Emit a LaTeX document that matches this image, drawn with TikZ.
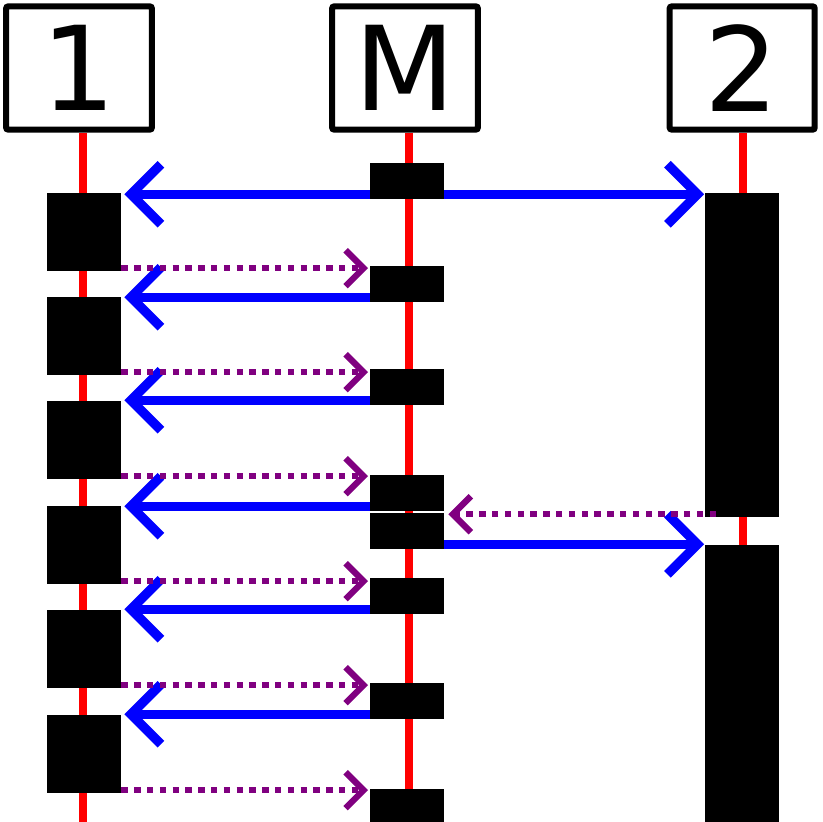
\documentclass[tikz,border=0pt]{standalone}
\usepackage{fontspec}
\setmainfont{DejaVu Sans}
\usetikzlibrary{arrows.meta}
\definecolor{lifered}{RGB}{255,0,0}
\definecolor{msgblue}{RGB}{0,0,255}
\definecolor{retpurple}{RGB}{128,0,128}
\begin{document}
\begin{tikzpicture}[x=1pt,y=-1pt,
  head/.style={draw=black, line width=6pt, rounded corners=2pt, fill=white,
    minimum width=145.7pt, minimum height=123.2pt, inner sep=0pt,
    font=\fontsize{117}{120}\selectfont},
  life/.style={draw=lifered, line width=7.7pt},
  act/.style={fill=black, inner sep=0pt, minimum width=74pt, anchor=north west},
  actL/.style={act, minimum height=78pt},
  actM/.style={act, minimum height=35.5pt},
  call/.style={draw=msgblue, line width=9.3pt, -{Straight Barb[length=30pt, width=60pt, sharp]}},
  reply/.style={draw=retpurple, line width=6.3pt, dash pattern=on 6.4pt off 6.4pt,
    -{Straight Barb[length=18pt, width=36pt, sharp, line width=6.3pt]}}
]
\useasboundingbox (0,0) rectangle (822,822);
% headers
\node[head] (h1) at (79,68) {1};
\node[head] (hm) at (405,68) {M};
\node[head, minimum width=145pt] (h2) at (742.2,68) {2};
% lifelines
\coordinate (e1) at (83,822);
\coordinate (em) at (409,822);
\coordinate (e2) at (743,822);
\draw[life] (h1.south -| e1) -- (e1);
\draw[life] (hm.south -| em) -- (em);
\draw[life] (h2.south -| e2) -- (e2);
% activations of 1
\node[actL] (a1) at (47,193) {};
\node[actL] (a2) at (47,297) {};
\node[actL] (a3) at (47,401) {};
\node[actL] (a4) at (47,506) {};
\node[actL] (a5) at (47,610) {};
\node[actL] (a6) at (47,715) {};
% activations of M
\node[actM] (m1) at (370,163) {};
\node[actM] (m2) at (370,266) {};
\node[actM] (m3) at (370,369) {};
\node[actM] (m4) at (370,475) {};
\node[actM] (m5) at (370,513) {};
\node[actM] (m6) at (370,578) {};
\node[actM] (m7) at (370,683) {};
\node[actM] (m8) at (370,789) {};
% activations of 2
\node[act, minimum height=324pt] (t1) at (705,193) {};
\node[act, minimum height=290pt] (t2) at (705,545) {};
% calls M -> 1 / 2
\draw[call] ([yshift=4.65pt]m1.south west) -- ([yshift=4.65pt,xshift=3pt]m1.south west -| a1.east);
\draw[call] ([yshift=4.65pt]m1.south east) -- ([yshift=4.65pt,xshift=-1pt]m1.south east -| t1.west);
\draw[call] ([yshift=4.65pt]m2.south west) -- ([yshift=4.65pt,xshift=3pt]m2.south west -| a2.east);
\draw[call] ([yshift=4.65pt]m3.south west) -- ([yshift=4.65pt,xshift=3pt]m3.south west -| a3.east);
\draw[call] ([yshift=4.65pt]m4.south west) -- ([yshift=4.65pt,xshift=3pt]m4.south west -| a4.east);
\draw[call] ([yshift=4.65pt]m5.south east) -- ([yshift=4.65pt,xshift=-1pt]m5.south east -| t2.west);
\draw[call] ([yshift=4.65pt]m6.south west) -- ([yshift=4.65pt,xshift=3pt]m6.south west -| a5.east);
\draw[call] ([yshift=4.65pt]m7.south west) -- ([yshift=4.65pt,xshift=3pt]m7.south west -| a6.east);
% replies
\draw[reply] ([yshift=3.2pt]a1.south east) -- ([yshift=3.2pt,xshift=-2pt]a1.south east -| m2.west);
\draw[reply] ([yshift=3.2pt]a2.south east) -- ([yshift=3.2pt,xshift=-2pt]a2.south east -| m3.west);
\draw[reply] ([yshift=3.2pt]a3.south east) -- ([yshift=3.2pt,xshift=-2pt]a3.south east -| m4.west);
\draw[reply] ([yshift=3.2pt,xshift=11pt]t1.south west) -- ([yshift=3.2pt,xshift=4pt]t1.south west -| m5.east);
\draw[reply] ([yshift=3.2pt]a4.south east) -- ([yshift=3.2pt,xshift=-2pt]a4.south east -| m6.west);
\draw[reply] ([yshift=3.2pt]a5.south east) -- ([yshift=3.2pt,xshift=-2pt]a5.south east -| m7.west);
\draw[reply] ([yshift=3.2pt]a6.south east) -- ([yshift=3.2pt,xshift=-2pt]a6.south east -| m8.west);
\end{tikzpicture}
\end{document}
